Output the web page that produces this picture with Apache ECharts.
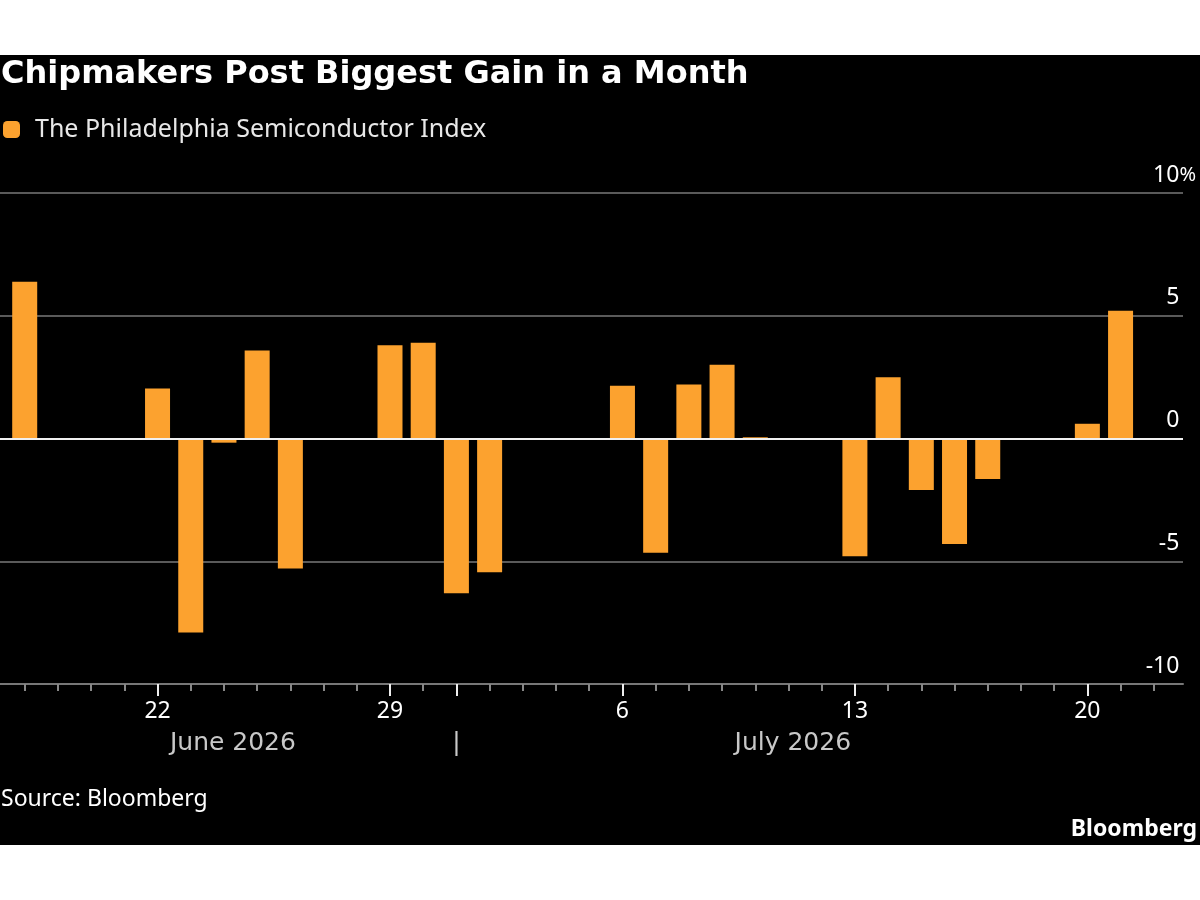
<!DOCTYPE html>
<html>
<head>
<meta charset="utf-8">
<script src="https://cdn.jsdelivr.net/npm/echarts@6/dist/echarts.min.js"></script>
<style>
    html, body { margin: 0; padding: 0; background: #fff; }
    /* 黑色面板 55px ~ 845px */
    #chart {
        width: 1200px;
        height: 900px;
        background: linear-gradient(to bottom, #fff 0, #fff 55px, #000 55px, #000 845px, #fff 845px, #fff 900px);
    }
</style>
</head>
<body>
<div id="chart"></div>
<script>
// 数据
var dates = ['2026-06-18', '2026-06-22', '2026-06-23', '2026-06-24', '2026-06-25', '2026-06-26',
    '2026-06-29', '2026-06-30', '2026-07-01', '2026-07-02',
    '2026-07-06', '2026-07-07', '2026-07-08', '2026-07-09', '2026-07-10',
    '2026-07-13', '2026-07-14', '2026-07-15', '2026-07-16', '2026-07-17',
    '2026-07-20', '2026-07-21'];
var values = [6.39, 2.04, -7.9, -0.17, 3.58, -5.3,
    3.8, 3.9, -6.3, -5.45,
    2.15, -4.65, 2.2, 3.0, 0.05,
    -4.8, 2.5, -2.1, -4.3, -1.65,
    0.6, 5.2];
var weekDates = ['2026-06-22', '2026-06-29', '2026-07-06', '2026-07-13', '2026-07-20'];
var weekLabels = ['22', '29', '6', '13', '20'];
var monthBreak = '2026-07-01';
var monthLabels = ['June 2026', 'July 2026'];
var yTicks = [-10, -5, 0, 5, 10];
var seriesName = 'The Philadelphia Semiconductor Index';

(function () {
    var FONT = 'Noto Sans';
    var WIDE = 'DejaVu Sans';
    var DAY = 86400000;
    var t0 = Date.parse(dates[0]);
    function dayIdx(s) { return (Date.parse(s) - t0) / DAY; }

    var xMin = -0.744, xMax = 34.88;
    // 每天一个小刻度
    var dayTicks = [];
    for (var i = 0; i <= 34; i++) dayTicks.push(i);
    var majorTicks = weekDates.map(dayIdx).concat([dayIdx(monthBreak)]);
    var weekPos = weekDates.map(dayIdx);
    var monthPos = [6.27, dayIdx(monthBreak), 23.13];

    var myChart = echarts.init(document.getElementById('chart'));
    var option = {
        backgroundColor: 'transparent',
        animation: false,
        title: [
            {
                text: 'Chipmakers Post Biggest Gain in a Month',
                left: 1, top: 59, padding: 0,
                textStyle: { color: '#fff', fontSize: 32, fontWeight: 'bold', fontFamily: WIDE }
            },
            {
                text: 'Source: Bloomberg',
                left: 1, top: 788, padding: 0,
                textStyle: { color: '#fff', fontSize: 23, fontWeight: 'normal', fontFamily: FONT }
            },
            {
                text: 'Bloomberg',
                right: 3, top: 818, padding: 0,
                textStyle: { color: '#fff', fontSize: 23, fontWeight: 'bold', fontFamily: FONT }
            }
        ],
        legend: {
            left: 3, top: 117, padding: 0,
            icon: 'roundRect',
            itemWidth: 17, itemHeight: 17, itemGap: 12,
            textStyle: { color: '#e8e8e8', fontSize: 25, fontFamily: FONT, padding: [0, 0, 0, 10] },
            data: [seriesName]
        },
        grid: {
            left: 0, right: 17, top: 193, bottom: 216
        },
        xAxis: [
            {
                // 每日小刻度
                type: 'value', min: xMin, max: xMax, position: 'bottom', offset: 0,
                splitLine: { show: false },
                axisLine: { show: true, onZero: false, lineStyle: { color: '#777', width: 2 } },
                axisTick: { show: true, customValues: dayTicks, length: 7, lineStyle: { color: '#888', width: 2 } },
                axisLabel: { show: false }
            },
            {
                // 周一及月份分界大刻度
                type: 'value', min: xMin, max: xMax, position: 'bottom', offset: 0,
                splitLine: { show: false },
                axisLine: { show: false, onZero: false },
                axisTick: { show: true, customValues: majorTicks, length: 12, lineStyle: { color: '#eee', width: 2 } },
                axisLabel: {
                    show: true, customValues: weekPos, margin: 16,
                    color: '#fff', fontSize: 23, fontFamily: FONT,
                    formatter: function (v) {
                        var k = weekPos.indexOf(v);
                        return k >= 0 ? weekLabels[k] : '';
                    }
                }
            },
            {
                // 月份标签
                type: 'value', min: xMin, max: xMax, position: 'bottom', offset: 47,
                splitLine: { show: false },
                axisLine: { show: false, onZero: false },
                axisTick: { show: false },
                axisLabel: {
                    show: true, customValues: monthPos, margin: 0,
                    color: '#c8c8c8', fontSize: 25, fontFamily: WIDE,
                    formatter: function (v) {
                        if (v === monthPos[0]) return monthLabels[0];
                        if (v === monthPos[2]) return monthLabels[1];
                        return '|';
                    }
                }
            }
        ],
        yAxis: {
            type: 'value', position: 'right',
            min: yTicks[0], max: yTicks[yTicks.length - 1], interval: 5,
            axisLine: { show: false },
            axisTick: { show: false },
            splitLine: { lineStyle: { color: '#5a5a5a', width: 2 } },
            axisLabel: {
                margin: 13, align: 'right', verticalAlign: 'bottom',
                padding: [0, 0, 3, 0],
                color: '#fff', fontSize: 23, fontFamily: FONT, lineHeight: 30,
                formatter: function (v) {
                    return '{n|' + v + '}' + (v === yTicks[yTicks.length - 1] ? '{p|%}' : '{h|%}');
                },
                rich: {
                    n: { color: '#fff', fontSize: 23, fontFamily: FONT, lineHeight: 30 },
                    p: { color: '#fff', fontSize: 20, fontFamily: FONT, lineHeight: 30 },
                    h: { color: 'transparent', fontSize: 20, fontFamily: FONT, lineHeight: 30 }
                }
            }
        },
        color: ['#fca22f'],
        series: [
            {
                name: seriesName,
                type: 'bar',
                xAxisIndex: 0,
                barWidth: 25,
                data: dates.map(function (d, i) { return [dayIdx(d), values[i]]; }),
                markLine: {
                    silent: true,
                    symbol: 'none',
                    label: { show: false },
                    lineStyle: { color: '#f0f0f0', width: 2, type: 'solid' },
                    data: [{ yAxis: 0 }]
                }
            }
        ]
    };
    myChart.setOption(option);
    window.addEventListener('resize', function () {
        myChart.resize();
    });
})();
</script>
</body>
</html>
